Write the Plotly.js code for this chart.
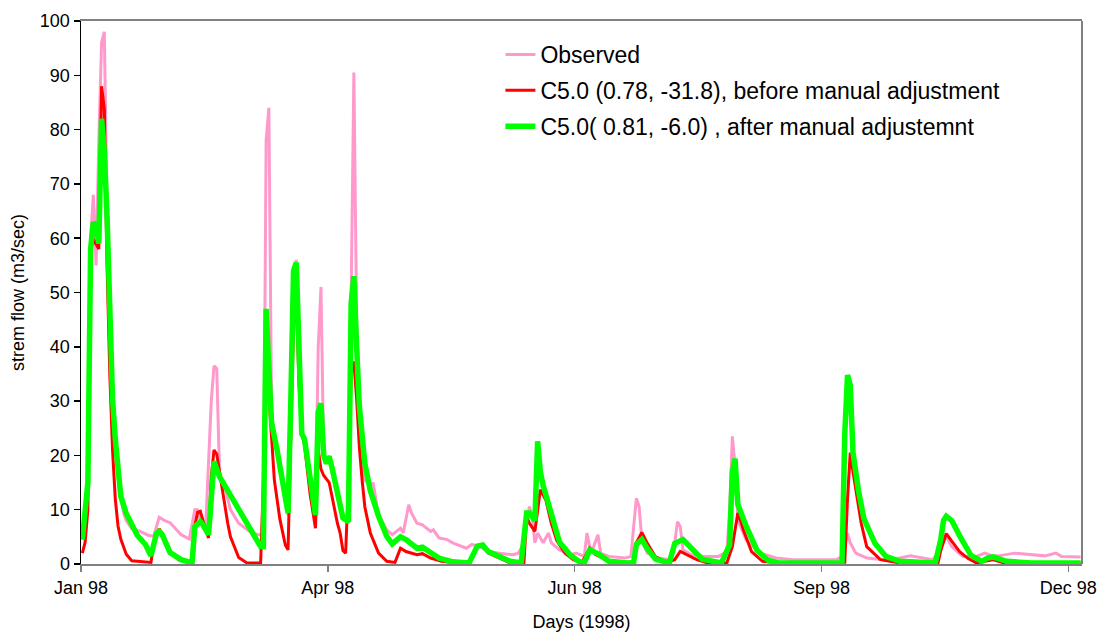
<!DOCTYPE html>
<html>
<head>
<meta charset="utf-8">
<script src="https://cdn.plot.ly/plotly-3.0.1.min.js"></script>
<style>
  html, body { margin: 0; padding: 0; background: #ffffff; }
  #chart { width: 1112px; height: 644px; }
</style>
</head>
<body>
<div id="chart"></div>
<script>
// Day of year (1 = 1 Jan 1998) and daily stream flow (m3/sec)
var obsDays = [1,2,3,4,5,6,7,8,9,10,11,12,13,14,15,16,17,19,22,25,27,28,29,31,33,35,37,40,42,43,44,46,48,49,50,51,52,53,55,58,62,65,67,68,69,70,71,72,74,76,77,78,79,80,81,82,84,86,87,88,89,90,91,92,95,98,99,100,101,102,103,104,106,107,109,112,114,117,118,120,121,123,125,128,129,131,134,136,141,143,146,149,153,158,160,162,164,165,166,167,169,171,172,175,179,181,184,185,186,187,189,190,193,199,201,203,204,205,207,211,215,217,218,219,220,223,228,233,236,237,238,239,240,243,248,254,260,270,276,277,278,280,281,283,287,293,299,303,308,311,313,316,318,322,327,330,333,335,341,347,352,356,358,365];
var obsFlow = [4.5,6,17,60,68,55,78,96,98,65,42,30,22,16,12,9.5,8,6.5,6,5.3,5.1,7,8.6,8,7.6,6.5,5.4,4.6,10,10,8,7.2,30,36.5,36,17,15,14,10,7.5,6,5.4,5.4,78,84,28,23,21,15,9,30,52,56,40,25,22,14,9,40,51,20,19,20,17,10,7.5,55,90.5,45,30,20,15.5,14.3,15,9,6.3,5.4,6.6,5.7,10.9,9.4,7.5,7.2,6.0,6.3,4.8,4.5,3.9,2.9,3.6,3.2,2.3,2.0,1.7,2.0,3.9,10.6,8.8,3.9,5.7,3.9,5.7,3.9,2.6,1.7,2.0,1.4,5.7,3.2,2.6,5.4,2.0,1.4,1.1,1.4,12.1,10.6,4.5,2.0,1.1,0.8,3.9,7.8,6.9,2.6,1.7,1.4,1.4,2.3,9.4,23.5,18,8.1,4.5,2.0,1.1,0.8,0.8,0.8,1.1,0.5,5.7,3.9,2.0,1.1,0.8,1.1,1.5,1.1,0.8,2.0,5.1,3.2,1.4,1.4,2.0,1.5,1.5,2.0,1.7,1.5,2.0,1.4,1.3];

var beforeDays = [1,2,3,4,5,6,7,8,9,10,11,12,13,14,15,17,19,26,27,29,31,33,36,41,42,43,44,45,47,48,49,50,52,54,55,58,61,66,67,68,69,70,71,73,75,76,77,78,79,80,81,82,84,85,86,87,88,89,91,93,94,95,96,97,98,99,100,101,102,103,104,106,109,112,115,117,119,123,125,128,132,137,142,145,147,149,153,157,162,163,164,166,168,169,170,172,174,177,180,183,186,188,193,200,202,203,205,207,210,214,217,219,221,225,229,236,238,240,241,242,245,249,255,279,280,281,282,283,284,285,287,292,299,313,314,316,318,321,324,327,330,333,337,365];
var beforeFlow = [2.0,4,10,57.8,59.8,59,58,88,83.8,55,35,21,12,7,4.6,1.8,0.6,0.3,3.5,6.5,4.8,2.3,0.8,0.2,7,9.5,9.7,8.0,4.8,16,21,20.2,13.5,7.5,5,1.2,0.2,0.2,15,32.7,31,23,15.5,8.3,3.5,2.6,24,44,49,33,24,22,13,9.5,6.6,21,17.5,16.3,15,10,7.5,5.7,2.5,2.0,15,35,37.3,30.5,21.5,15.5,10.5,5.7,2.0,0.5,0.3,2.9,2.3,1.7,1.9,1.1,0.5,0.2,0.2,3.2,3.2,2.0,1.1,0.2,0.2,8.8,7.5,6.0,13.7,12.8,11.8,7.5,4.3,2.0,0.8,0.2,2.9,1.8,0.5,0.2,0.2,3.9,5.8,3.8,1.3,0.3,0.8,2.3,1.8,0.8,0.2,0.2,3.2,9.4,8,6.3,2.3,0.5,0.2,0.3,12,20.5,17,14,11,7.5,3.2,0.8,0.2,0.2,2.5,5.6,4.2,2.2,1.0,0.2,0.5,0.8,0.2,0.2];

var afterDays = [1,2,3,4,5,6,7,8,9,10,11,12,13,14,15,17,19,21,24,26,28,29,30,33,37,41,42,44,45,47,48,49,50,51,56,61,66,67,68,69,70,72,76,77,78,79,80,81,82,86,87,88,89,90,91,92,96,98,99,100,101,102,104,106,109,112,114,117,119,123,125,128,131,136,142,145,147,149,153,157,161,163,164,166,167,168,169,171,173,175,179,182,184,186,189,193,200,202,203,205,207,210,215,217,220,224,227,234,237,238,239,240,243,247,251,255,278,279,280,281,282,284,286,290,294,299,312,314,315,316,318,321,325,329,331,333,338,347,365];
var afterFlow = [4.5,9,15,58,63,62,59,82,76,64,42,30.5,23,17,12.5,9.3,7.2,5.3,3.6,1.5,5.6,6.0,5.5,2.1,0.8,0.2,6.9,7.8,7.2,5.4,12,18.9,17.5,16.1,11.8,7.5,3.2,3.2,47,36,26,21,9.4,30,54,55.5,35,24,23,9,28,29.6,20,18.5,19.8,17.8,8.5,7.8,48,53,40,29,18.5,13.5,8.8,5.1,3.7,5.0,4.5,2.9,3.1,2.0,1.1,0.4,0.2,3.3,3.5,2.3,1.4,0.5,0.2,9.4,9.4,8,22.6,17,14.5,11,7,4,1.6,0.5,0.2,2.6,1.9,0.5,0.2,0.3,3.6,4.5,2.8,0.9,0.2,3.8,4.5,2.5,0.9,0.2,3.5,17,19.4,11,7,2.5,0.7,0.2,0.2,24,34.8,33,20.5,13.5,8.3,3.8,1.4,0.5,0.2,4.5,8,8.8,8.0,5.1,1.6,0.5,1.1,1.3,0.5,0.2,0.2];

// Axis ticks: category boundaries every 90 days, labelled as in the figure
var tickDays = [0.5, 90.5, 180.5, 270.5, 360.5];
var tickLabels = ["Jan 98", "Apr 98", "Jun 98", "Sep 98", "Dec 98"];
var seriesNames = ["Observed", "C5.0 (0.78, -31.8), before manual adjustment", "C5.0( 0.81, -6.0) , after manual adjustemnt"];

var FONT = "Liberation Sans, Arial, Helvetica, sans-serif";

var traces = [
  { x: obsDays, y: obsFlow, type: "scatter", mode: "lines", name: seriesNames[0],
    legendgroup: "a", line: { color: "#FF99CC", width: 3 } },
  { x: beforeDays, y: beforeFlow, type: "scatter", mode: "lines", name: seriesNames[1],
    legendgroup: "b", line: { color: "#FF0000", width: 3 } },
  { x: afterDays, y: afterFlow, type: "scatter", mode: "lines", name: seriesNames[2],
    legendgroup: "c", line: { color: "#00FF00", width: 5.5 } }
];

var layout = {
  width: 1112, height: 644,
  margin: { l: 81, r: 30, t: 21, b: 80, pad: 0 },
  paper_bgcolor: "#ffffff", plot_bgcolor: "#ffffff",
  font: { family: FONT, color: "#000000", size: 18 },
  showlegend: true,
  legend: {
    x: 0.419, y: 0.978, xanchor: "left", yanchor: "top",
    bgcolor: "rgba(255,255,255,0)", borderwidth: 0,
    font: { family: FONT, size: 23, color: "#000000" },
    traceorder: "grouped", tracegroupgap: 3
  },
  xaxis: {
    range: [0.5, 365.5], tickmode: "array", tickvals: tickDays, ticktext: tickLabels,
    showgrid: false, zeroline: false,
    showline: true, linecolor: "#808080", linewidth: 2, mirror: true,
    ticks: "outside", ticklen: 6, tickwidth: 1.5, tickcolor: "#808080",
    tickfont: { family: FONT, size: 18, color: "#000000" },
    title: { text: "Days (1998)", font: { family: FONT, size: 18, color: "#000000" }, standoff: 19 }
  },
  yaxis: {
    range: [0, 100], dtick: 10, tick0: 0,
    showgrid: false, zeroline: false,
    showline: true, linecolor: "#000000", linewidth: 1.5,
    ticks: "outside", ticklen: 6, tickwidth: 1.5, tickcolor: "#000000",
    tickfont: { family: FONT, size: 18, color: "#000000" },
    title: { text: "strem flow (m3/sec)", font: { family: FONT, size: 18, color: "#000000" }, standoff: 10 }
  },
  shapes: [
    { type: "line", xref: "paper", yref: "paper", x0: 1, x1: 1, y0: 0, y1: 1,
      line: { color: "#808080", width: 2 } }
  ]
};

Plotly.newPlot("chart", traces, layout, { displayModeBar: false, staticPlot: true });
</script>
</body>
</html>
